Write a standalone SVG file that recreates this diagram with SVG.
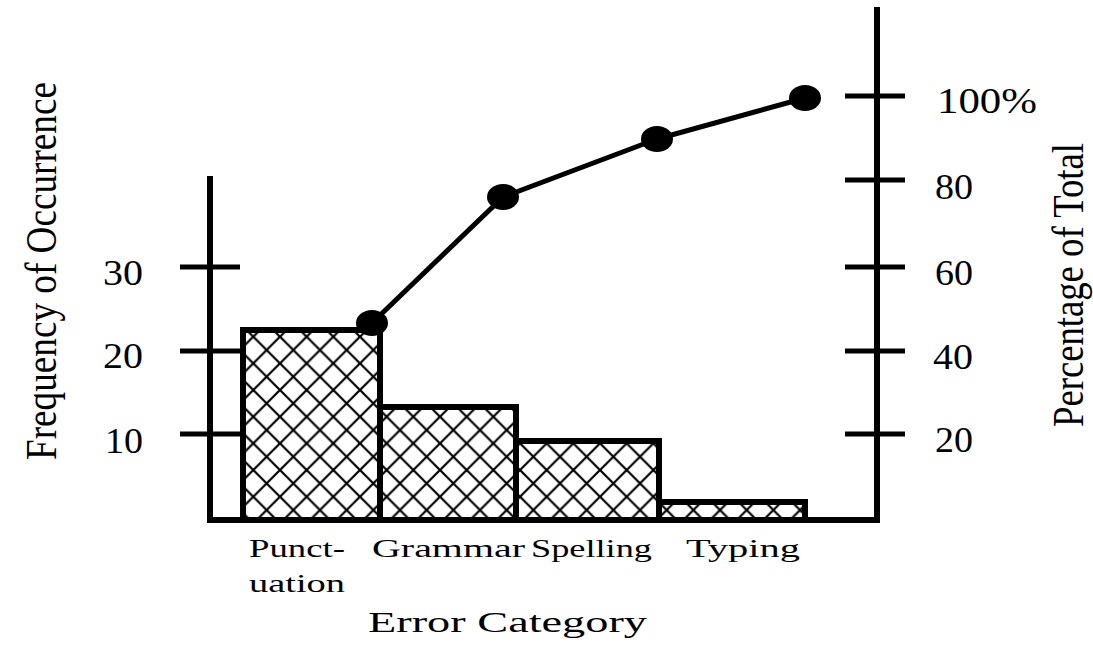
<svg xmlns="http://www.w3.org/2000/svg" width="1093" height="646" viewBox="0 0 1093 646">
<defs>
<pattern id="hatch" patternUnits="userSpaceOnUse" x="253.3" y="336.7" width="26.67" height="26.67">
<rect width="26.67" height="26.67" fill="#fff"/>
<path d="M0 0L26.67 26.67M26.67 0L0 26.67" stroke="#000" stroke-width="2.2" fill="none"/>
</pattern>
<style>
.ax{stroke:#000;stroke-width:6;fill:none;stroke-linecap:square}
.tk{stroke:#000;stroke-width:5;fill:none}
.bar{fill:url(#hatch);stroke:#000;stroke-width:6}
.t{font-family:"Liberation Serif",serif;fill:#000}
.num{font-size:35px}
.cat{font-size:26px}
</style>
</defs>
<rect width="1093" height="646" fill="#fff"/>
<g id="bars">
<rect id="bar-punctuation" class="bar" x="243" y="330" width="137" height="190"/>
<rect id="bar-grammar" class="bar" x="380" y="407" width="136" height="113"/>
<rect id="bar-spelling" class="bar" x="516" y="441" width="143" height="79"/>
<rect id="bar-typing" class="bar" x="659" y="502" width="146" height="18"/>
</g>
<g id="axes">
<line class="ax" x1="210" y1="179" x2="210" y2="520"/>
<line class="ax" x1="877" y1="10" x2="877" y2="520"/>
<line class="ax" x1="210" y1="520" x2="877" y2="520"/>
<path class="tk" d="M180 267H240M180 351H240M180 434H240M845 96H905M845 180H905M845 267H905M845 351H905M845 434H905"/>
</g>
<g id="connectors">
<polyline points="372,323 503,197 657,139 805,98" fill="none" stroke="#000" stroke-width="5" stroke-linejoin="round"/>
</g>
<g id="points">
<ellipse cx="372" cy="323" rx="16" ry="13"/>
<ellipse cx="503" cy="197" rx="16" ry="13"/>
<ellipse cx="657" cy="139" rx="16" ry="13"/>
<ellipse cx="805" cy="98" rx="16" ry="13"/>
</g>
<g id="left-labels" class="t num">
<text x="103" y="285" textLength="40" lengthAdjust="spacingAndGlyphs">30</text>
<text x="103" y="368" textLength="40" lengthAdjust="spacingAndGlyphs">20</text>
<text x="105" y="453" textLength="38" lengthAdjust="spacingAndGlyphs">10</text>
</g>
<g id="right-labels" class="t num">
<text x="937" y="113" textLength="100" lengthAdjust="spacingAndGlyphs">100%</text>
<text x="935" y="199" textLength="38" lengthAdjust="spacingAndGlyphs">80</text>
<text x="935" y="285" textLength="38" lengthAdjust="spacingAndGlyphs">60</text>
<text x="933" y="369" textLength="40" lengthAdjust="spacingAndGlyphs">40</text>
<text x="935" y="452" textLength="38" lengthAdjust="spacingAndGlyphs">20</text>
</g>
<g id="category-labels" class="t cat">
<text x="249" y="557" textLength="96" lengthAdjust="spacingAndGlyphs">Punct-</text>
<text x="249" y="592" textLength="96" lengthAdjust="spacingAndGlyphs">uation</text>
<text x="372" y="557" textLength="153" lengthAdjust="spacingAndGlyphs">Grammar</text>
<text x="531" y="557" textLength="121" lengthAdjust="spacingAndGlyphs">Spelling</text>
<text x="686" y="557" textLength="114" lengthAdjust="spacingAndGlyphs">Typing</text>
</g>
<g id="axis-titles" class="t">
<text x="368" y="632" font-size="29" textLength="279" lengthAdjust="spacingAndGlyphs">Error Category</text>
<text transform="translate(56,460) rotate(-90)" font-size="44" textLength="378" lengthAdjust="spacingAndGlyphs">Frequency of Occurrence</text>
<text transform="translate(1083,427) rotate(-90)" font-size="44" textLength="284" lengthAdjust="spacingAndGlyphs">Percentage of Total</text>
</g>
</svg>
